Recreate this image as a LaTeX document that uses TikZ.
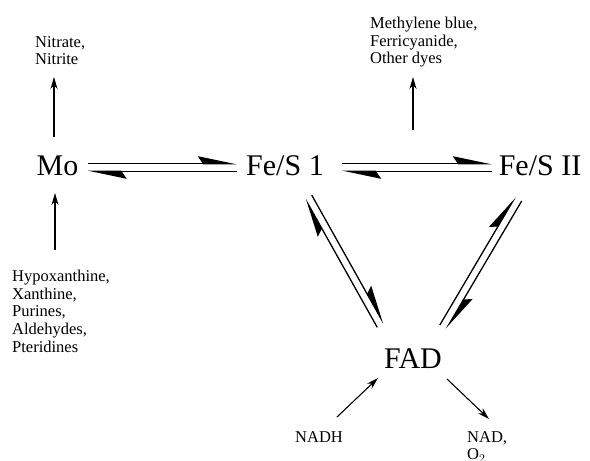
\documentclass[tikz,border=0pt]{standalone}
\usepackage{fontspec}
\newfontfamily\bigserif{Liberation Serif}
\usetikzlibrary{arrows.meta,calc}
\tikzset{
  species/.style={font=\bigserif\fontsize{30}{30}\selectfont, inner sep=0pt, anchor=base},
  substrate/.style={font=\bigserif\fontsize{16.5}{17.8}\selectfont, align=left, inner sep=0pt, anchor=north west},
  eqline/.style={line width=1.3pt, -{Stealth[harpoon,length=36pt,width=15pt,inset=5pt]}},
  flow/.style={line width=1.1pt, -{Stealth[length=12pt,width=7pt]}}
}
\newcommand\eqpair[2]{%
  \draw[eqline] ($(#1)!3.75pt!90:(#2)$) -- ($(#2)!3.75pt!-90:(#1)$);
  \draw[eqline] ($(#2)!3.75pt!90:(#1)$) -- ($(#1)!3.75pt!-90:(#2)$);
}
\begin{document}
\begin{tikzpicture}[x=1pt,y=-1pt]
\useasboundingbox (0,0) rectangle (590,461);
% main species
\node[species] (mo)   at (57.5,175) {Mo};
\node[species] (fes1) at (285,175) {Fe/S 1};
\node[species] (fes2) at (540,175) {Fe/S II};
\node[species] (fad)  at (413,368) {FAD};
% substrates / products
\node[substrate] (nit)  at (35,36)  {Nitrate,\\Nitrite};
\node[substrate] (dyes) at (370,16.7) {Methylene blue,\\Ferricyanide,\\Other dyes};
\node[substrate] (hyp)  at (12,269.7) {Hypoxanthine,\\Xanthine,\\Purines,\\Aldehydes,\\Pteridines};
\node[substrate] (nadh) at (295,431.1) {NADH};
\node[substrate] (nad)  at (467,431.1) {NAD,\\O$_2$};
% connector end points
\coordinate (moR)   at (87.5,167.5);
\coordinate (f1L)   at (237,167.5);
\coordinate (f1R)   at (342,167.5);
\coordinate (f2L)   at (492,167.5);
\coordinate (f1B)   at (308.5,197);
\coordinate (fadTL) at (380.5,325.5);
\coordinate (f2B)   at (518.5,199);
\coordinate (fadTR) at (443,327);
\coordinate (moT)   at (54,137);
\coordinate (nitB)  at (54,77);
\coordinate (hypT)  at (55,250);
\coordinate (moB)   at (55,193);
\coordinate (dyeS)  at (413,130);
\coordinate (dyeE)  at (413,77);
\coordinate (nadhT) at (337,417);
\coordinate (fadBL) at (378,378);
\coordinate (fadBR) at (447,379);
\coordinate (nadT)  at (489,419);
% equilibria
\eqpair{moR}{f1L}
\eqpair{f1R}{f2L}
\eqpair{f1B}{fadTL}
\eqpair{fadTR}{f2B}
% single arrows
\draw[flow] (moT) -- (nitB);
\draw[flow] (hypT) -- (moB);
\draw[flow] (dyeS) -- (dyeE);
\draw[flow] (nadhT) -- (fadBL);
\draw[flow] (fadBR) -- (nadT);
\end{tikzpicture}
\end{document}
